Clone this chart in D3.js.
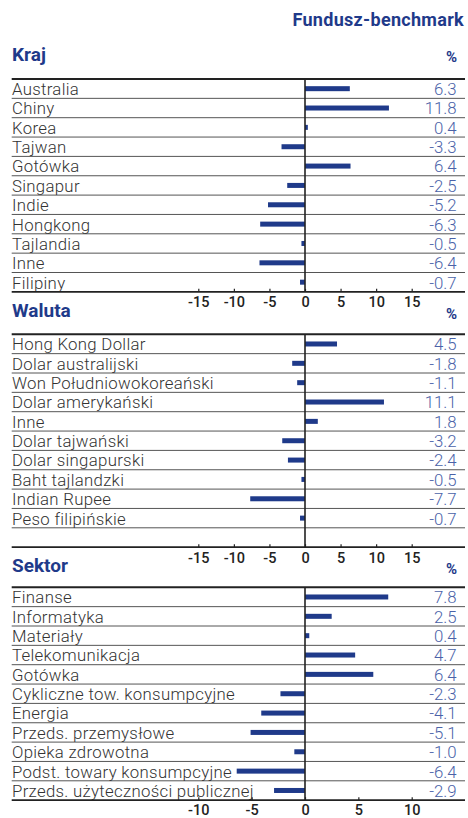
<!DOCTYPE html>
<html lang="pl">
  <head>
    <meta charset="UTF-8" />
    <title>Fundusz-benchmark</title>
    <script src="https://d3js.org/d3.v7.min.js"></script>
    <style>
      body {
        margin: 0;
        background: #fff;
      }
      svg text {
        font-family: Roboto, "DejaVu Sans", sans-serif;
      }
    </style>
  </head>
  <body>
    <div id="chart"></div>
    <script>
      // data
      const krajLabels = ["Australia", "Chiny", "Korea", "Tajwan", "Gotówka", "Singapur", "Indie", "Hongkong", "Tajlandia", "Inne", "Filipiny"];
      const krajValues = [6.3, 11.8, 0.4, -3.3, 6.4, -2.5, -5.2, -6.3, -0.5, -6.4, -0.7];

      const walutaLabels = ["Hong Kong Dollar", "Dolar australijski", "Won Południowokoreański", "Dolar amerykański", "Inne", "Dolar tajwański", "Dolar singapurski", "Baht tajlandzki", "Indian Rupee", "Peso filipińskie"];
      const walutaValues = [4.5, -1.8, -1.1, 11.1, 1.8, -3.2, -2.4, -0.5, -7.7, -0.7];

      const sektorLabels = ["Finanse", "Informatyka", "Materiały", "Telekomunikacja", "Gotówka", "Cykliczne tow. konsumpcyjne", "Energia", "Przeds. przemysłowe", "Opieka zdrowotna", "Podst. towary konsumpcyjne", "Przeds. użyteczności publicznej"];
      const sektorValues = [7.8, 2.5, 0.4, 4.7, 6.4, -2.3, -4.1, -5.1, -1.0, -6.4, -2.9];

      const ticksWide = [-15, -10, -5, 0, 5, 10, 15];
      const ticksNarrow = [-10, -5, 0, 5, 10];

      const width = 468;
      const height = 818;
      const left = 11.7;
      const right = 465;
      const rowH = 19.35;
      const navy = "#1f3a8a";

      const svg = d3
        .select("#chart")
        .append("svg")
        .attr("width", width)
        .attr("height", height);

      // header
      svg
        .append("text")
        .attr("x", 464)
        .attr("y", 26)
        .attr("text-anchor", "end")
        .attr("font-size", "18px")
        .attr("font-weight", 700)
        .attr("letter-spacing", "0.3px")
        .attr("fill", navy)
        .text("Fundusz-benchmark");

      const panels = [
        { title: "Kraj", titleY: 60.5, top: 79, rows: 11, labels: krajLabels, values: krajValues, domain: [-15, 15], ticks: ticksWide, tickY: 15.5 },
        { title: "Waluta", titleY: 317, top: 334.3, rows: 11, labels: walutaLabels, values: walutaValues, domain: [-15, 15], ticks: ticksWide, tickY: 15.5 },
        { title: "Sektor", titleY: 572, top: 587.3, rows: 11, labels: sektorLabels, values: sektorValues, domain: [-10, 10], ticks: ticksNarrow, tickY: 14.5 },
      ];

      panels.forEach((p) => drawPanel(p));

      function drawPanel(p) {
        const g = svg.append("g");
        const bottom = p.top + p.rows * rowH;

        const x = d3.scaleLinear().domain(p.domain).range([198.3, 411.7]);
        const y = d3
          .scaleBand()
          .domain(d3.range(p.rows))
          .range([p.top, bottom]);

        // title and %
        g.append("text")
          .attr("x", 12)
          .attr("y", p.titleY)
          .attr("font-size", "19px")
          .attr("font-weight", 700)
          .attr("fill", navy)
          .text(p.title);
        g.append("text")
          .attr("x", 457)
          .attr("y", p.titleY + 1.5)
          .attr("text-anchor", "end")
          .attr("font-size", "15px")
          .attr("font-weight", 700)
          .attr("fill", navy)
          .text("%");

        // row separators
        g.selectAll(".sep")
          .data(d3.range(1, p.rows))
          .enter()
          .append("line")
          .attr("x1", left)
          .attr("x2", right)
          .attr("y1", (i) => y(i))
          .attr("y2", (i) => y(i))
          .attr("stroke", "#555")
          .attr("stroke-width", 1);

        // top rule
        g.append("line")
          .attr("x1", left)
          .attr("x2", right)
          .attr("y1", p.top)
          .attr("y2", p.top)
          .attr("stroke", "#222")
          .attr("stroke-width", 2);

        // bars
        g.selectAll(".bar")
          .data(p.values)
          .enter()
          .append("rect")
          .attr("x", (d) => Math.min(x(0), x(d)))
          .attr("width", (d) => Math.abs(x(d) - x(0)))
          .attr("y", (d, i) => y(i) + y.bandwidth() / 2 - 2.5)
          .attr("height", 5)
          .attr("fill", navy);

        // category labels
        g.selectAll(".lab")
          .data(p.labels)
          .enter()
          .append("text")
          .attr("x", 12)
          .attr("y", (d, i) => y(i) + y.bandwidth() - 3.3)
          .attr("font-size", "16.8px")
          .attr("font-weight", 300)
          .attr("letter-spacing", "0.3px")
          .attr("fill", "#333")
          .text((d) => d);

        // value labels
        g.selectAll(".val")
          .data(p.values)
          .enter()
          .append("text")
          .attr("x", 456.7)
          .attr("y", (d, i) => y(i) + y.bandwidth() - 3.3)
          .attr("text-anchor", "end")
          .attr("font-size", "16.8px")
          .attr("font-weight", 300)
          .attr("fill", "#4a62a8")
          .text((d) => d.toFixed(1));

        // zero line
        g.append("line")
          .attr("x1", x(0))
          .attr("x2", x(0))
          .attr("y1", p.top)
          .attr("y2", bottom)
          .attr("stroke", "#222")
          .attr("stroke-width", 1.6);

        // axis
        const axis = d3
          .axisBottom(x)
          .tickValues(p.ticks)
          .tickFormat((d) => String(d))
          .tickSizeInner(-3)
          .tickSizeOuter(0);
        const ax = g
          .append("g")
          .attr("transform", `translate(0,${bottom})`)
          .call(axis);
        ax.select(".domain").remove();
        ax.selectAll(".tick line").attr("stroke", "#222").attr("stroke-width", 1.2);
        ax.selectAll(".tick text")
          .attr("y", p.tickY)
          .attr("dy", 0)
          .attr("font-size", "14.5px")
          .attr("font-weight", 500)
          .attr("font-family", "Roboto, sans-serif")
          .attr("fill", "#222");

        g.append("line")
          .attr("x1", left)
          .attr("x2", right)
          .attr("y1", bottom)
          .attr("y2", bottom)
          .attr("stroke", "#222")
          .attr("stroke-width", 1.6);
      }
    </script>
  </body>
</html>
